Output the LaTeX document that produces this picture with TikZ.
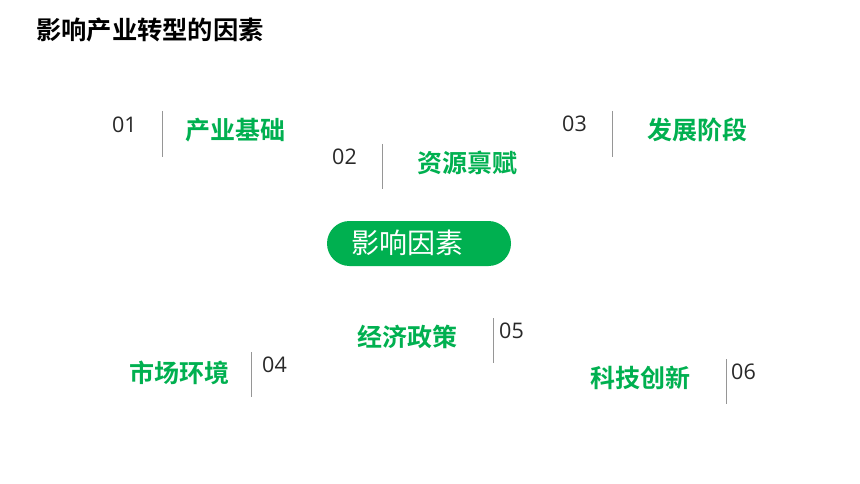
\documentclass[tikz,border=0pt]{standalone}
\usepackage{fontspec}
\newfontfamily\cjk{Noto Sans CJK SC}
\newfontfamily\cjkb{Noto Sans CJK SC Bold}
\newfontfamily\digits{Open Sans}
\definecolor{kgreen}{RGB}{0,176,80}
\definecolor{kline}{RGB}{150,150,150}
\definecolor{knum}{RGB}{40,40,40}
\begin{document}
\begin{tikzpicture}[x=1pt,y=-1pt,
  lbl/.style={inner sep=0pt,anchor=west,text=kgreen,font=\cjkb\fontsize{25}{25}\selectfont},
  num/.style={inner sep=0pt,anchor=west,text=knum,font=\digits\fontsize{21.5}{21.5}\selectfont},
  sep/.style={draw=kline,line width=1pt}]
\useasboundingbox[fill=white] (0,0) rectangle (860,484);
\node[inner sep=0pt,anchor=west,font=\cjkb\fontsize{25.3}{25.3}\selectfont] (title) at (36,30) {影响产业转型的因素};
% 01
\node[num] (n1) at (112,125) {01};
\coordinate (s1a) at (162,111); \coordinate (s1b) at (162,157);
\draw[sep] (s1a) -- (s1b);
\node[lbl] (l1) at (185,130) {产业基础};
% 02
\node[num] (n2) at (332,157) {02};
\coordinate (s2a) at (382,144); \coordinate (s2b) at (382,189);
\draw[sep] (s2a) -- (s2b);
\node[lbl] (l2) at (417,163) {资源禀赋};
% 03
\node[num] (n3) at (562,124) {03};
\coordinate (s3a) at (612,111); \coordinate (s3b) at (612,157);
\draw[sep] (s3a) -- (s3b);
\node[lbl] (l3) at (647,130) {发展阶段};
% center pill
\node[fill=kgreen,rounded corners=22.5pt,minimum width=184pt,minimum height=45pt,inner sep=0pt] (pill) at (419,243.5) {};
\node[inner sep=0pt,anchor=west,text=white,font=\cjk\fontsize{28}{28}\selectfont] (pt) at (351,243) {影响因素};
% 05
\node[lbl] (l5) at (357,337) {经济政策};
\coordinate (s5a) at (493,318); \coordinate (s5b) at (493,363);
\draw[sep] (s5a) -- (s5b);
\node[num] (n5) at (499,331) {05};
% 04
\node[lbl] (l4) at (129,373) {市场环境};
\coordinate (s4a) at (251,352); \coordinate (s4b) at (251,397);
\draw[sep] (s4a) -- (s4b);
\node[num] (n4) at (262,365) {04};
% 06
\node[lbl] (l6) at (590,378) {科技创新};
\coordinate (s6a) at (726,359); \coordinate (s6b) at (726,404);
\draw[sep] (s6a) -- (s6b);
\node[num] (n6) at (731,372) {06};
\end{tikzpicture}
\end{document}
